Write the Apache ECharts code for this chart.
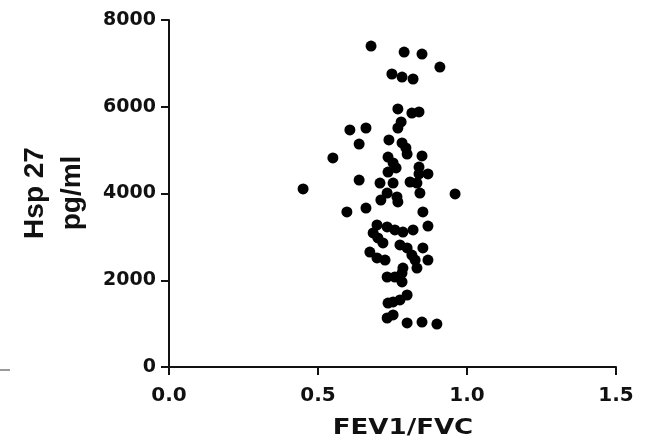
<!DOCTYPE html>
<html>
<head>
<meta charset="utf-8">
<title>Hsp 27 vs FEV1/FVC</title>
<script src="https://cdn.jsdelivr.net/npm/echarts@6/dist/echarts.min.js"></script>
<style>
  html, body { margin: 0; padding: 0; background: #ffffff; }
  #chart { width: 648px; height: 447px; }
</style>
</head>
<body>
<div id="chart"></div>
<script>
// FEV1/FVC ratio for each subject
const fev1Fvc = [
  0.678, 0.789, 0.849, 0.909, 0.748, 0.782, 0.819, 0.768, 0.815, 0.839,
  0.779, 0.768, 0.607, 0.661, 0.638, 0.738, 0.782, 0.795, 0.799, 0.849,
  0.550, 0.735, 0.752, 0.762, 0.735, 0.839, 0.869, 0.839, 0.638, 0.708,
  0.752, 0.809, 0.832, 0.450, 0.960, 0.732, 0.765, 0.842, 0.711, 0.768,
  0.597, 0.661, 0.852, 0.869, 0.698, 0.732, 0.758, 0.785, 0.819, 0.685,
  0.701, 0.718, 0.674, 0.698, 0.725, 0.775, 0.799, 0.815, 0.826, 0.852,
  0.869, 0.785, 0.832, 0.732, 0.758, 0.782, 0.782, 0.799, 0.775, 0.735,
  0.752, 0.732, 0.752, 0.799, 0.849, 0.899
];

// Serum Hsp 27 concentration (pg/ml) for the same subjects
const hsp27 = [
  7400, 7260, 7215, 6915, 6755, 6685, 6640, 5950, 5855, 5880,
  5650, 5510, 5465, 5510, 5140, 5235, 5165, 5050, 4910, 4865,
  4820, 4840, 4705, 4590, 4495, 4610, 4450, 4450, 4310, 4240,
  4240, 4265, 4240, 4105, 3990, 4010, 3920, 4010, 3850, 3805,
  3575, 3665, 3575, 3250, 3275, 3230, 3160, 3110, 3160, 3090,
  2975, 2860, 2650, 2515, 2465, 2815, 2745, 2580, 2465, 2745,
  2465, 2280, 2280, 2075, 2075, 2165, 1960, 1660, 1545, 1475,
  1500, 1130, 1200, 1015, 1035, 990
];

// Axis tick values
const xTicks = [0.0, 0.5, 1.0, 1.5];
const yTicks = [0, 2000, 4000, 6000, 8000];

const points = fev1Fvc.map((v, i) => [v, hsp27[i]]);

const chart = echarts.init(document.getElementById('chart'), null, { renderer: 'canvas' });

const axisBlack = '#111111';
const tickFont = { fontFamily: 'DejaVu Sans', fontWeight: 'bold', color: '#111111' };

chart.setOption({
  animation: false,
  backgroundColor: '#ffffff',
  grid: { left: 169, right: 32, top: 20, bottom: 80, containLabel: false },
  xAxis: {
    type: 'value',
    min: xTicks[0],
    max: xTicks[xTicks.length - 1],
    interval: xTicks[1] - xTicks[0],
    axisLine: { show: true, onZero: false, lineStyle: { color: axisBlack, width: 2 } },
    axisTick: { show: true, length: 8, lineStyle: { color: axisBlack, width: 2 } },
    splitLine: { show: false },
    axisLabel: Object.assign({ fontSize: 20, margin: 19, formatter: v => v.toFixed(1) }, tickFont)
  },
  yAxis: {
    type: 'value',
    min: yTicks[0],
    max: yTicks[yTicks.length - 1],
    interval: yTicks[1] - yTicks[0],
    axisLine: { show: true, onZero: false, lineStyle: { color: axisBlack, width: 2 } },
    axisTick: { show: true, length: 8, lineStyle: { color: axisBlack, width: 2 } },
    splitLine: { show: false },
    axisLabel: Object.assign({ fontSize: 19, margin: 13, formatter: v => String(v) }, tickFont)
  },
  series: [{
    type: 'scatter',
    data: points,
    symbol: 'circle',
    symbolSize: 11,
    itemStyle: { color: '#000000', opacity: 1 }
  }],
  graphic: [
    {
      // x-axis title
      type: 'text',
      x: 403, y: 429,
      scaleX: 1.24,
      style: {
        text: 'FEV1/FVC',
        font: 'bold 21px "DejaVu Sans"',
        fill: '#111111',
        align: 'center',
        verticalAlign: 'middle'
      }
    },
    {
      // y-axis title, two lines, reading bottom to top
      type: 'text',
      x: 54, y: 193,
      rotation: Math.PI / 2,
      style: {
        text: 'Hsp 27\npg/ml',
        font: 'bold 28px "Liberation Sans"',
        lineHeight: 37,
        fill: '#111111',
        align: 'center',
        verticalAlign: 'middle'
      }
    },
    {
      // short grey rule at the left edge
      type: 'line',
      shape: { x1: 0, y1: 370, x2: 10, y2: 370 },
      style: { stroke: '#9a9a9a', lineWidth: 2 }
    }
  ]
});
</script>
</body>
</html>
